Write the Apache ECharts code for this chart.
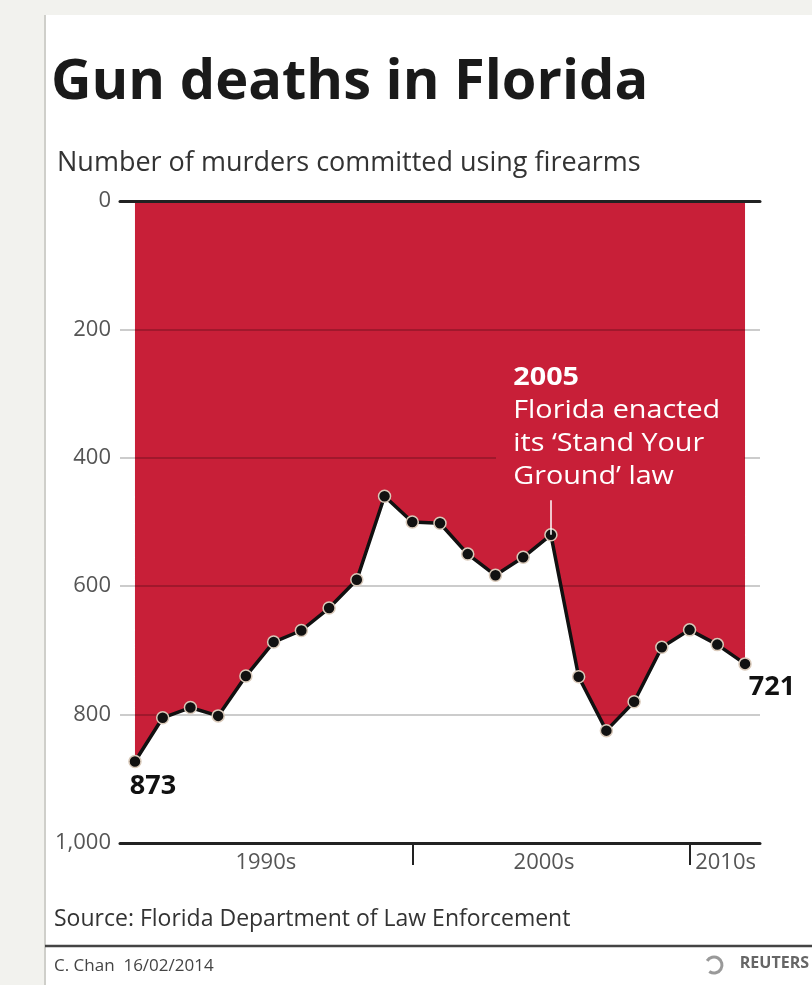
<!DOCTYPE html>
<html><head><meta charset="utf-8">
<script src="https://cdn.jsdelivr.net/npm/echarts@6/dist/echarts.min.js"></script>
<style>
html,body{margin:0;padding:0;background:#f2f2ee;}
#panel{position:absolute;left:44px;top:15px;width:768px;height:970px;background:#fff;border-left:2px solid #cfcfca;box-sizing:border-box;}
#chart{position:absolute;left:0;top:0;width:812px;height:985px;}
</style></head><body>
<div id="panel"></div><div id="chart"></div>
<script>
const years = [1990,1991,1992,1993,1994,1995,1996,1997,1998,1999,2000,2001,2002,2003,2004,2005,2006,2007,2008,2009,2010,2011,2012];
const murders = [873,805,789,802,740,687,669,634,590,460,500,502,550,583,555,520,741,825,780,695,668,691,721];
const yTicks = [0,200,400,600,800,1000];
const decadeTicks = [2000,2010];
const decadeLabels = ['1990s','2000s','2010s'];
const decadeLabelPos = [1994.72,2004.75,2011.3];

const FONT = '"Open Sans"';
const RED = '#c81f38';
const pts = years.map((y,i)=>[y,murders[i]]);
const chart = echarts.init(document.getElementById('chart'), null, {renderer:'canvas'});
const opt = {
  animation:false,
  backgroundColor:'transparent',
  title:[{
    text:'Gun deaths in Florida', left:46, top:50,
    textStyle:{fontFamily:FONT,fontWeight:'bold',fontSize:56,color:'#1a1a1a'}
  },{
    text:'Number of murders committed using firearms', left:52, top:145,
    textStyle:{fontFamily:FONT,fontWeight:'normal',fontSize:27,color:'#333'}
  }],
  grid:{left:120,right:52,top:201,bottom:142},
  xAxis:[{
    type:'value', min:1989.46, max:2012.54, position:'bottom',
    axisLine:{onZero:false,lineStyle:{color:'#222',width:3}},
    axisTick:{show:true,customValues:decadeTicks,length:22,lineStyle:{color:'#222',width:2}},
    axisLabel:{customValues:decadeLabelPos,color:'#555',fontFamily:FONT,fontSize:22,margin:9,
      formatter:function(v){return v<2000?decadeLabels[0]:(v<2010?decadeLabels[1]:decadeLabels[2]);}},
    splitLine:{show:false}, z:4
  },{
    type:'value', min:1989.46, max:2012.54, position:'top',
    axisLine:{onZero:false,lineStyle:{color:'#222',width:3}},
    axisTick:{show:false}, axisLabel:{show:false}, splitLine:{show:false}, z:4
  }],
  yAxis:{
    type:'value', inverse:true, min:0, max:1000, interval:200,
    axisLine:{show:false}, axisTick:{show:false},
    axisLabel:{color:'#555',fontFamily:FONT,fontSize:22,margin:9,
      formatter:function(v){return v.toLocaleString('en-US');}},
    splitLine:{lineStyle:{color:'rgba(0,0,0,0.2)',width:2}},
    z:2
  },
  series:[{
    type:'line', data:pts, xAxisIndex:0, showSymbol:false, z:1,
    lineStyle:{width:0}, areaStyle:{color:RED,opacity:1}, silent:true
  },{
    type:'line', data:pts.map((p,i)=>{
      const d={value:p};
      if(i===0) d.label={show:true,position:'bottom',offset:[18,0]};
      if(i===pts.length-1) d.label={show:true,position:'bottom',offset:[27,-2]};
      return d;
    }), xAxisIndex:0, z:3,
    symbol:'circle', symbolSize:12,
    lineStyle:{color:'#111',width:3.5},
    itemStyle:{color:'#111',borderColor:'#d9c9b9',borderWidth:1.5},
    label:{show:false,formatter:function(p){return p.value[1];},fontFamily:FONT,fontWeight:'bold',fontSize:27,color:'#111'},
    markLine:{
      silent:true, symbol:'none', label:{show:false},
      lineStyle:{color:'#fff',width:1.5,type:'solid'},
      data:[[{coord:[2005,466]},{coord:[2005,520]}]]
    }
  }],
  graphic:[
    {type:'text', x:496, y:357, scaleX:1.15, z:100,
      style:{text:'{b|2005}\nFlorida enacted\nits ‘Stand Your\nGround’ law',
        fill:'#fff', font:'25px '+FONT, lineHeight:33, backgroundColor:RED, padding:[4,21,4,15],
        rich:{b:{fontWeight:'bold',fontSize:25,fontFamily:FONT,fill:'#fff',lineHeight:33}}}},
    {type:'text', left:54, top:908, style:{text:'Source: Florida Department of Law Enforcement',fill:'#333',font:'23px '+FONT}},
    {type:'line', shape:{x1:45,y1:946,x2:812,y2:946}, style:{stroke:'#444',lineWidth:2.5}},
    {type:'text', left:54, top:958, style:{text:'C. Chan  16/02/2014',fill:'#444',font:'17px '+FONT}},
    {type:'text', right:3, top:955, style:{text:'REUTERS',fill:'#666',font:'bold 16px '+FONT}},
    {type:'arc', shape:{cx:714,cy:965,r:8,startAngle:-2.6,endAngle:2.2}, style:{fill:'none',stroke:'#999',lineWidth:3}}
  ]
};
chart.setOption(opt);
</script>
</body></html>
